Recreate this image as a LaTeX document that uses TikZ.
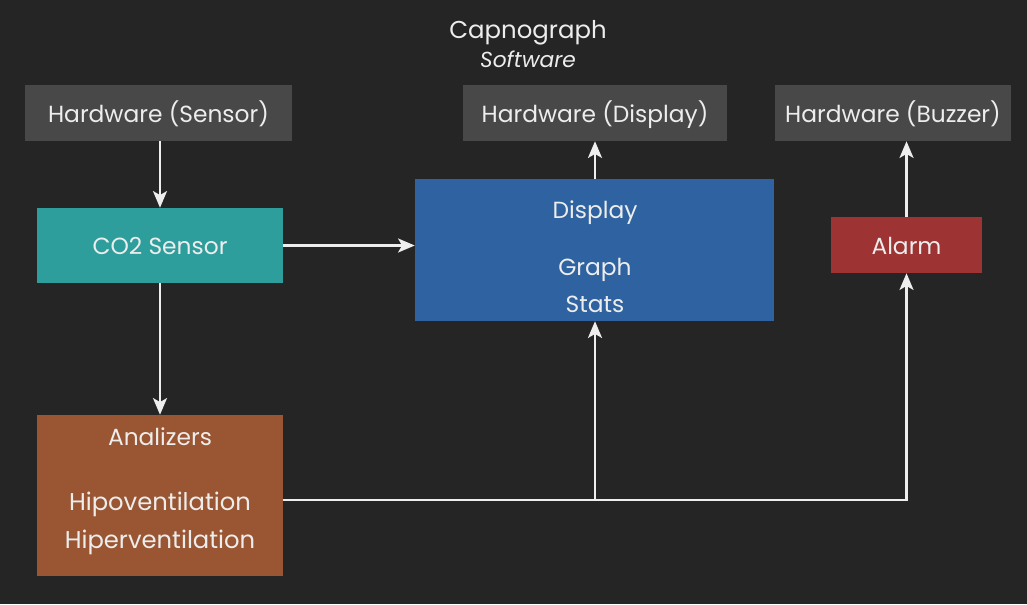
\documentclass[tikz,border=0pt]{standalone}
\usepackage{fontspec}
\setmainfont{Poppins}
\usetikzlibrary{arrows.meta}
\definecolor{bg}{HTML}{252525}
\definecolor{hw}{HTML}{484848}
\definecolor{teal}{HTML}{2E9E9C}
\definecolor{blu}{HTML}{2E62A0}
\definecolor{alarmred}{HTML}{9E3333}
\definecolor{brownbox}{HTML}{9A5632}
\definecolor{txt}{HTML}{EDEDED}
\definecolor{wire}{HTML}{EEEEEE}
\tikzset{
  box/.style={inner sep=0pt, anchor=center, text=txt, font=\fontsize{17.5}{20}\selectfont, text height=14pt, text depth=0.5pt},
  lbl/.style={inner sep=0pt, anchor=center, text=txt, font=\fontsize{17.5}{20}\selectfont, text height=14pt, text depth=0.5pt},
  conn/.style={draw=wire, line width=1.7pt, -{Stealth[length=12.5pt,width=10.5pt,inset=3pt]}},
  plain/.style={draw=wire, line width=1.7pt}
}
\begin{document}
\begin{tikzpicture}[x=0.75pt,y=-0.75pt]
\fill[bg] (0,0) rectangle (1027,604);
\useasboundingbox (0,0) rectangle (1027,604);
% title
\node[lbl, font=\fontsize{18.3}{21}\selectfont] (title) at (528,29) {Capnograph};
\node[lbl, font=\fontsize{16.3}{19}\selectfont\itshape] (subtitle) at (528,58) {Software};
% hardware boxes
\node[box, fill=hw, minimum width={267*0.75pt}, minimum height={56*0.75pt}] (hwsensor) at (158.5,113) {Hardware (Sensor)};
\node[box, fill=hw, minimum width={264*0.75pt}, minimum height={56*0.75pt}] (hwdisplay) at (595,113) {Hardware (Display)};
\node[box, fill=hw, minimum width={236*0.75pt}, minimum height={56*0.75pt}] (hwbuzzer) at (893,113) {Hardware (Buzzer)};
% software boxes
\node[box, fill=teal, minimum width={246*0.75pt}, minimum height={75*0.75pt}] (co2) at (160,245.5) {CO2 Sensor};
\node[box, fill=blu, minimum width={359*0.75pt}, minimum height={142*0.75pt}] (disp) at (594.5,250) {};
\node[lbl] (dispT) at (595,209) {Display};
\node[lbl] (dispG) at (595,266) {Graph};
\node[lbl] (dispS) at (595,303) {Stats};
\node[box, fill=alarmred, minimum width={151*0.75pt}, minimum height={56*0.75pt}] (alarm) at (906.5,245) {Alarm};
\node[box, fill=brownbox, minimum width={246*0.75pt}, minimum height={161*0.75pt}] (anal) at (160,495.5) {};
\node[lbl] (analT) at (160,436) {Analizers};
\node[lbl, font=\fontsize{18.2}{21}\selectfont] (analO) at (160,501) {Hipoventilation};
\node[lbl, font=\fontsize{18.2}{21}\selectfont] (analE) at (160,539) {Hiperventilation};
% connectors
\draw[conn] (hwsensor.south -| co2.north) -- (co2.north);
\draw[conn] (co2.east) -- (co2.east -| disp.west);
\draw[conn] (disp.north -| hwdisplay.south) -- (hwdisplay.south);
\draw[conn] (alarm.north) -- (alarm.north |- hwbuzzer.south);
\draw[conn] (co2.south) -- (anal.north);
\coordinate (j) at (595,500);
\draw[plain] (anal.east |- j) -- (j);
\draw[conn] (j) -- (j |- disp.south);
\draw[conn] (j) -- (j -| alarm.south) -- (alarm.south);
\end{tikzpicture}
\end{document}
